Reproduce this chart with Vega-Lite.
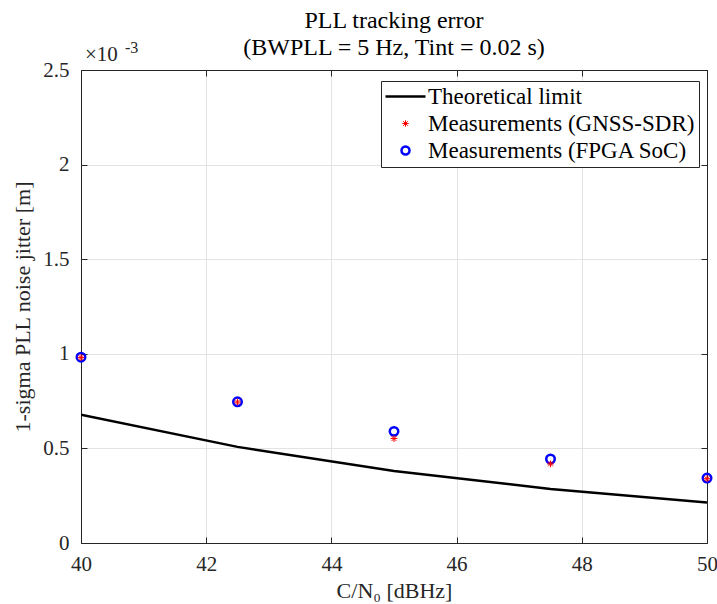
{
  "$schema": "https://vega.github.io/schema/vega-lite/v6.json",
  "autosize": "none",
  "width": 626,
  "height": 473,
  "padding": {"left": 81, "right": 10, "top": 70, "bottom": 61},
  "background": "white",
  "config": {
    "font": "Liberation Serif",
    "view": {"stroke": "#262626", "strokeWidth": 1},
    "axis": {
      "labelFont": "Liberation Serif",
      "titleFont": "Liberation Serif",
      "labelFontSize": 21,
      "titleFontSize": 22,
      "labelColor": "#262626",
      "titleColor": "#262626",
      "titleFontWeight": "normal",
      "domainColor": "#262626",
      "tickColor": "#262626",
      "gridColor": "#e3e3e3",
      "gridWidth": 1,
      "tickSize": -6,
      "labelFlush": false
    },
    "legend": {
      "labelFont": "Liberation Serif",
      "labelFontSize": 23,
      "labelColor": "black",
      "labelLimit": 500,
      "strokeColor": "#262626",
      "fillColor": "white",
      "padding": 4,
      "rowPadding": 3,
      "symbolSize": 64,
      "symbolStrokeWidth": 2.5,
      "symbolOffset": 9,
      "labelOffset": 11
    },
    "title": {"font": "Liberation Serif", "fontSize": 24, "fontWeight": "normal", "color": "black"}
  },
  "title": {
    "text": ["PLL tracking error", "(BWPLL = 5 Hz, Tint = 0.02 s)"],
    "anchor": "middle",
    "lineHeight": 27,
    "offset": -20
  },
  "datasets": {
    "theory": [
      {"cn0": 40, "jitter": 0.000678, "series": "Theoretical limit"},
      {"cn0": 42.5, "jitter": 0.000508, "series": "Theoretical limit"},
      {"cn0": 45, "jitter": 0.000381, "series": "Theoretical limit"},
      {"cn0": 47.5, "jitter": 0.000286, "series": "Theoretical limit"},
      {"cn0": 50, "jitter": 0.000214, "series": "Theoretical limit"}
    ],
    "sdr": [
      {"cn0": 40, "jitter": 0.00098, "series": "Measurements (GNSS-SDR)"},
      {"cn0": 42.5, "jitter": 0.000745, "series": "Measurements (GNSS-SDR)"},
      {"cn0": 45, "jitter": 0.000552, "series": "Measurements (GNSS-SDR)"},
      {"cn0": 47.5, "jitter": 0.000418, "series": "Measurements (GNSS-SDR)"},
      {"cn0": 50, "jitter": 0.00034, "series": "Measurements (GNSS-SDR)"}
    ],
    "fpga": [
      {"cn0": 40, "jitter": 0.000982, "series": "Measurements (FPGA SoC)"},
      {"cn0": 42.5, "jitter": 0.000746, "series": "Measurements (FPGA SoC)"},
      {"cn0": 45, "jitter": 0.00059, "series": "Measurements (FPGA SoC)"},
      {"cn0": 47.5, "jitter": 0.000444, "series": "Measurements (FPGA SoC)"},
      {"cn0": 50, "jitter": 0.000343, "series": "Measurements (FPGA SoC)"}
    ],
    "note": [{"cn0": 40, "jitter": 0.0025, "base": "×10", "exp": "-3"}]
  },
  "resolve": {"axis": {"x": "independent", "y": "independent"}},
  "layer": [
    {
      "data": {"name": "theory"},
      "mark": {"type": "line", "strokeWidth": 2.5, "clip": true},
      "encoding": {
        "x": {
          "field": "cn0", "type": "quantitative",
          "scale": {"domain": [40, 50], "nice": false, "zero": false},
          "axis": {"values": [40, 42, 44, 46, 48, 50], "title": "C/N₀ [dBHz]", "labelPadding": 16, "titlePadding": 6, "grid": true}
        },
        "y": {
          "field": "jitter", "type": "quantitative",
          "scale": {"domain": [0, 0.0025], "nice": false, "zero": true},
          "axis": {"values": [0, 0.0005, 0.001, 0.0015, 0.002, 0.0025], "labelExpr": "format(datum.value*1000, '.2~r')", "title": "1-sigma PLL noise jitter [m]", "labelPadding": 18, "titlePadding": 8, "grid": true}
        },
        "color": {
          "field": "series", "type": "nominal",
          "scale": {"domain": ["Theoretical limit", "Measurements (GNSS-SDR)", "Measurements (FPGA SoC)"], "range": ["black", "#ff0000", "#0000ff"]},
          "legend": {
            "title": null, "orient": "none", "legendX": 300, "legendY": 11,
            "encode": {"symbols": {"update": {"strokeWidth": {"signal": "datum.value === 'Measurements (GNSS-SDR)' ? 1 : 2.5"}}}}
          }
        }
      }
    },
    {
      "data": {"name": "fpga"},
      "mark": {"type": "point", "filled": false, "strokeWidth": 2.5, "size": 72, "opacity": 1},
      "encoding": {
        "x": {"field": "cn0", "type": "quantitative", "axis": {"orient": "top", "values": [40, 42, 44, 46, 48, 50], "labels": false, "title": null, "grid": false}},
        "y": {"field": "jitter", "type": "quantitative", "axis": {"orient": "right", "values": [0, 0.0005, 0.001, 0.0015, 0.002, 0.0025], "labels": false, "title": null, "grid": false}},
        "color": {"field": "series", "type": "nominal"},
        "shape": {
          "field": "series", "type": "nominal",
          "scale": {"domain": ["Theoretical limit", "Measurements (GNSS-SDR)", "Measurements (FPGA SoC)"], "range": ["M-5,0L5,0", "M-0.8,0L0.8,0M0,-0.8L0,0.8M-0.57,-0.57L0.57,0.57M-0.57,0.57L0.57,-0.57", "circle"]},
          "legend": {
            "title": null, "orient": "none", "legendX": 300, "legendY": 11,
            "encode": {"symbols": {"update": {"strokeWidth": {"signal": "datum.value === 'Measurements (GNSS-SDR)' ? 1 : 2.5"}}}}
          }
        }
      }
    },
    {
      "data": {"name": "sdr"},
      "mark": {"type": "point", "filled": false, "strokeWidth": 1, "size": 72, "opacity": 1},
      "encoding": {
        "x": {"field": "cn0", "type": "quantitative", "axis": null},
        "y": {"field": "jitter", "type": "quantitative", "axis": null},
        "color": {"field": "series", "type": "nominal"},
        "shape": {"field": "series", "type": "nominal"}
      }
    },
    {
      "data": {"name": "note"},
      "mark": {"type": "text", "align": "left", "baseline": "alphabetic", "dx": 4, "dy": -9, "fontSize": 21, "color": "#262626"},
      "encoding": {
        "x": {"field": "cn0", "type": "quantitative", "axis": null},
        "y": {"field": "jitter", "type": "quantitative", "axis": null},
        "text": {"field": "base"}
      }
    },
    {
      "data": {"name": "note"},
      "mark": {"type": "text", "align": "left", "baseline": "alphabetic", "dx": 44, "dy": -17, "fontSize": 16, "color": "#262626"},
      "encoding": {
        "x": {"field": "cn0", "type": "quantitative", "axis": null},
        "y": {"field": "jitter", "type": "quantitative", "axis": null},
        "text": {"field": "exp"}
      }
    }
  ]
}
